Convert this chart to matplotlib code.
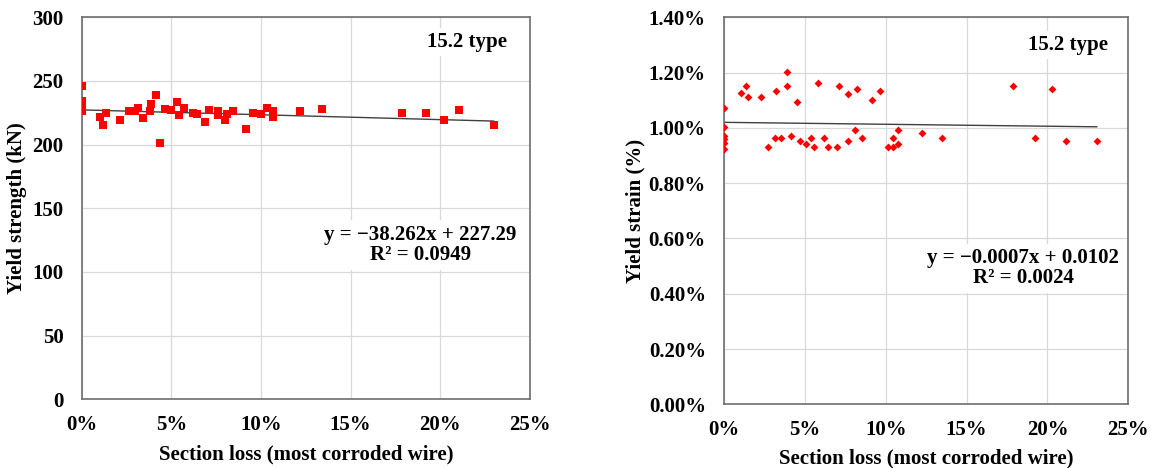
import matplotlib
matplotlib.use("Agg")
import matplotlib.pyplot as plt
import numpy as np
from matplotlib.ticker import PercentFormatter, MultipleLocator

plt.rcParams['font.family'] = ['Liberation Serif', 'DejaVu Serif']
plt.rcParams['font.weight'] = 'bold'

# left panel: yield strength (kN) vs section loss (fraction)
loss_a = [0.0, 0.0, 0.0, 0.0, 0.0100, 0.0119, 0.0138, 0.0214, 0.0263, 0.0296,
          0.0315, 0.0342, 0.0380, 0.0384, 0.0412, 0.0436, 0.0464, 0.0500, 0.0529,
          0.0544, 0.0572, 0.0618, 0.0641, 0.0687, 0.0708, 0.0762, 0.0762, 0.0799,
          0.0808, 0.0842, 0.0915, 0.0957, 0.1000, 0.1035, 0.1065, 0.1065, 0.1218,
          0.1339, 0.1786, 0.1922, 0.2018, 0.2106, 0.2298]
strength = [246.0, 234.2, 230.3, 226.3, 221.9, 215.3, 225.0, 219.5, 226.3, 226.3,
            228.4, 221.1, 226.3, 231.6, 238.7, 201.3, 228.2, 226.9, 233.4,
            223.1, 228.4, 225.0, 224.3, 217.6, 226.9, 226.3, 222.9, 219.2,
            224.3, 226.3, 212.6, 225.0, 224.3, 229.0, 226.3, 221.9, 226.3,
            228.2, 225.0, 225.0, 219.2, 226.9, 215.3]
fit_a = (-38.262, 227.29)

# right panel: yield strain (fraction) vs section loss (fraction)
loss_b = [0.0, 0.0, 0.0, 0.0, 0.0, 0.0, 0.0107, 0.0134, 0.0148, 0.0227, 0.0274,
          0.0313, 0.0321, 0.0354, 0.0391, 0.0391, 0.0416, 0.0449, 0.0469, 0.0506,
          0.0541, 0.0556, 0.0580, 0.0617, 0.0644, 0.0700, 0.0714, 0.0764, 0.0764,
          0.0807, 0.0823, 0.0856, 0.0918, 0.0967, 0.1012, 0.1046, 0.1046, 0.1074,
          0.1074, 0.1225, 0.1348, 0.1790, 0.1926, 0.2030, 0.2114, 0.2305]
strain = [1.071, 1.003, 0.971, 0.959, 0.945, 0.923, 1.125, 1.153, 1.111, 1.111, 0.932,
          0.963, 1.134, 0.963, 1.201, 1.153, 0.972, 1.093, 0.954, 0.941,
          0.963, 0.930, 1.162, 0.963, 0.930, 0.930, 1.153, 0.954, 1.123,
          0.993, 1.142, 0.963, 1.101, 1.133, 0.930, 0.930, 0.963, 0.940,
          0.993, 0.981, 0.963, 1.152, 0.963, 1.141, 0.954, 0.954]
strain = [v / 100 for v in strain]
fit_b = (-0.0007, 0.0102)

W, H = 1156, 468
fig = plt.figure(figsize=(W / 100, H / 100), dpi=100)
ax1 = fig.add_axes([81.7 / W, 1 - 399.3 / H, 448.3 / W, 382 / H])
ax2 = fig.add_axes([724 / W, 1 - 404.3 / H, 404.3 / W, 387 / H])

fs = 15
for ax in (ax1, ax2):
    ax.set_xlim(0, 0.25)
    ax.xaxis.set_major_locator(MultipleLocator(0.05))
    ax.xaxis.set_major_formatter(PercentFormatter(1.0, decimals=0))
    ax.grid(True, color='#d9d9d9', lw=0.9)
    ax.set_axisbelow(True)
    ax.tick_params(axis='both', length=0, labelsize=fs)
    ax.tick_params(axis='y', pad=13)
    ax.tick_params(axis='x', pad=11)
    for s in ax.spines.values():
        s.set_color('#6e6e6e')
        s.set_linewidth(1.2)
    ax.set_xlabel('Section loss (most corroded wire)', fontsize=fs, fontweight='bold')

# left
ax1.set_ylim(0, 300)
ax1.yaxis.set_major_locator(MultipleLocator(50))
ax1.scatter(loss_a, strength, marker='s', s=32, color='#ff0000', zorder=3, linewidths=0)
xa = np.array([0, max(loss_a)])
ax1.plot(xa, fit_a[0] * xa + fit_a[1], color='#404040', lw=1.0, zorder=2)
ax1.set_ylabel('Yield strength (kN)', fontsize=fs, fontweight='bold')
ax1.yaxis.set_label_coords(-0.122, 0.5)
ax1.xaxis.set_label_coords(0.5, -0.117)
ax1.text(0.859, 0.935, '15.2 type', transform=ax1.transAxes, ha='center', va='center',
         fontsize=fs, fontweight='bold',
         bbox=dict(facecolor='white', edgecolor='none', pad=3), zorder=4)
ax1.text(0.755, 0.404, 'y = \u221238.262x + 227.29\nR\u00b2 = 0.0949', transform=ax1.transAxes,
         ha='center', va='center', fontsize=fs, fontweight='bold', linespacing=1.05,
         bbox=dict(facecolor='white', edgecolor='none', pad=3), zorder=4)

# right
ax2.set_ylim(0, 0.014)
ax2.yaxis.set_major_locator(MultipleLocator(0.002))
ax2.yaxis.set_major_formatter(PercentFormatter(1.0, decimals=2))
ax2.scatter(loss_b, strain, marker='D', s=16, color='#ff0000', zorder=3, linewidths=0)
xb = np.array([0, max(loss_b)])
ax2.plot(xb, fit_b[0] * xb + fit_b[1], color='#404040', lw=1.0, zorder=2)
ax2.set_ylabel('Yield strain (%)', fontsize=fs, fontweight='bold')
ax2.yaxis.set_label_coords(-0.193, 0.5)
ax2.xaxis.set_label_coords(0.5, -0.113)
ax2.text(0.851, 0.928, '15.2 type', transform=ax2.transAxes, ha='center', va='center',
         fontsize=fs, fontweight='bold',
         bbox=dict(facecolor='white', edgecolor='none', pad=3), zorder=4)
ax2.text(0.740, 0.352, 'y = \u22120.0007x + 0.0102\nR\u00b2 = 0.0024', transform=ax2.transAxes,
         ha='center', va='center', fontsize=fs, fontweight='bold', linespacing=1.05,
         bbox=dict(facecolor='white', edgecolor='none', pad=3), zorder=4)

for ax in (ax1, ax2):
    for lab in ax.get_xticklabels() + ax.get_yticklabels():
        lab.set_fontweight('bold')

fig.savefig('out.png', dpi=100)
